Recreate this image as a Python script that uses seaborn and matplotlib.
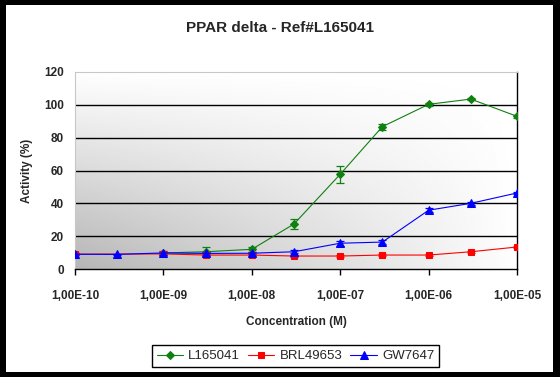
import numpy as np
import pandas as pd
import matplotlib
matplotlib.use("Agg")
import matplotlib.pyplot as plt
from matplotlib.patches import Rectangle
from matplotlib.ticker import FixedLocator, FixedFormatter, NullLocator
import seaborn as sns

# ---- data ----
conc = [1e-10, 3e-10, 1e-9, 3e-9, 1e-8, 3e-8, 1e-7, 3e-7, 1e-6, 3e-6, 1e-5]
l165041 = [np.nan, np.nan, 9.8, 10.5, 12.0, 27.4, 57.7, 86.7, 100.3, 103.5, 93.0]
l165041_err = [np.nan, np.nan, 0.5, 2.7, 1.5, 3.0, 5.2, 1.8, 0.8, 0.8, 0.8]
brl49653 = [9.0, np.nan, 9.2, 8.5, 8.5, 7.9, 7.9, 8.5, 8.5, 10.5, 13.4]
brl49653_err = [0.5, np.nan, 0.5, 0.5, 0.5, 0.5, 0.5, 0.5, 0.5, 0.5, 0.5]
gw7647 = [9.0, 8.9, 9.8, 9.5, 9.6, 10.5, 15.7, 16.4, 35.8, 40.0, 46.3]
gw7647_err = [0.5, 0.5, 1.0, 0.8, 0.5, 0.8, 1.5, 1.0, 1.2, 1.0, 0.8]

series_names = ["L165041", "BRL49653", "GW7647"]
series_vals = [l165041, brl49653, gw7647]
series_errs = [l165041_err, brl49653_err, gw7647_err]
series_colors = ["#108010", "#ff0000", "#0000ff"]
series_markers = ["D", "s", "^"]
series_msize = [4.0, 5.0, 6.0]

x_ticks = [1e-10, 1e-9, 1e-8, 1e-7, 1e-6, 1e-5]
x_tick_labels = ["1,00E-10", "1,00E-09", "1,00E-08", "1,00E-07", "1,00E-06", "1,00E-05"]
y_ticks = [0, 20, 40, 60, 80, 100, 120]

title = "PPAR delta - Ref#L165041"
xlabel = "Concentration (M)"
ylabel = "Activity (%)"

# ---- style ----
sns.set_style("white")
plt.rcParams["font.family"] = ["Liberation Sans", "DejaVu Sans"]

W, H = 560, 377
fig = plt.figure(figsize=(W / 100, H / 100), dpi=100)
fig.patch.set_facecolor("black")
fig.patches.append(Rectangle((6 / W, 5 / H), 547 / W, 367 / H, transform=fig.transFigure,
                             facecolor="white", edgecolor="none", zorder=-10))

left, right, top, bottom = 75, 517, 72, 269
pos = [left / W, 1 - bottom / H, (right - left) / W, (bottom - top) / H]

# gradient background axes
bg = fig.add_axes(pos, zorder=0)
u = np.linspace(0, 1, 300)[None, :]
w = np.linspace(0, 1, 200)[:, None]
shade = 1 - 0.29 * (1 - u) ** 0.9 * (1 - w)
bg.imshow(shade, extent=[0, 1, 0, 1], origin="lower", cmap="gray", vmin=0, vmax=1,
          aspect="auto", interpolation="bilinear")
bg.set_axis_off()

ax = fig.add_axes(pos, zorder=1)
ax.patch.set_alpha(0)

for name, vals, errs, col, mk, ms in zip(series_names, series_vals, series_errs,
                                         series_colors, series_markers, series_msize):
    df = pd.DataFrame({"conc": conc, "val": vals, "err": errs}).dropna()
    ax.errorbar(df["conc"], df["val"], yerr=df["err"], fmt="none", ecolor=col,
                elinewidth=0.9, capsize=3, capthick=0.9, zorder=3)
    sns.lineplot(data=df, x="conc", y="val", ax=ax, color=col, marker=mk,
                 markersize=ms, markeredgecolor=col, markerfacecolor=col,
                 linewidth=0.8, label=name, zorder=4, legend=False)

ax.set_xscale("log")
ax.set_xlim(1e-10, 1e-5)
ax.set_ylim(0, 120)

for yv in y_ticks[1:-1]:
    ax.axhline(yv, color="black", linewidth=1.0, zorder=2)

ax.xaxis.set_major_locator(FixedLocator(x_ticks))
ax.xaxis.set_major_formatter(FixedFormatter(x_tick_labels))
ax.xaxis.set_minor_locator(NullLocator())
ax.set_yticks(y_ticks)
ax.set_yticklabels([str(v) for v in y_ticks])

ax.tick_params(axis="x", which="major", direction="out", length=4, width=1,
               color="black", pad=11, labelsize=8.5, bottom=True)
ax.tick_params(axis="y", length=0, pad=8, labelsize=8.5, left=True)
for lbl in ax.get_xticklabels() + ax.get_yticklabels():
    lbl.set_fontweight("bold")

ax.spines["bottom"].set_color("black")
ax.spines["bottom"].set_linewidth(1.0)
ax.spines["right"].set_visible(True)
ax.spines["right"].set_color("black")
ax.spines["right"].set_linewidth(1.0)
ax.spines["top"].set_visible(True)
ax.spines["top"].set_color("#c8c8c8")
ax.spines["left"].set_visible(True)
ax.spines["left"].set_color("#c8c8c8")

ax.set_xlabel(xlabel, fontsize=8.5, fontweight="bold", labelpad=10)
ax.set_ylabel(ylabel, fontsize=8.5, fontweight="bold", labelpad=8)

fig.text(0.5, 1 - 28 / H, title, ha="center", va="center", fontsize=11, fontweight="bold")

handles, labels = ax.get_legend_handles_labels()
leg = fig.legend(handles, labels, loc="center", bbox_to_anchor=(295.5 / W, 1 - 356 / H),
                 ncol=3, frameon=True, fancybox=False, edgecolor="black", facecolor="white",
                 framealpha=1, fontsize=9.5, handlelength=2.0, handletextpad=0.4,
                 columnspacing=0.6, borderpad=0.35)
leg.get_frame().set_linewidth(1.0)

fig.savefig("out.png", dpi=100, facecolor=fig.get_facecolor())
